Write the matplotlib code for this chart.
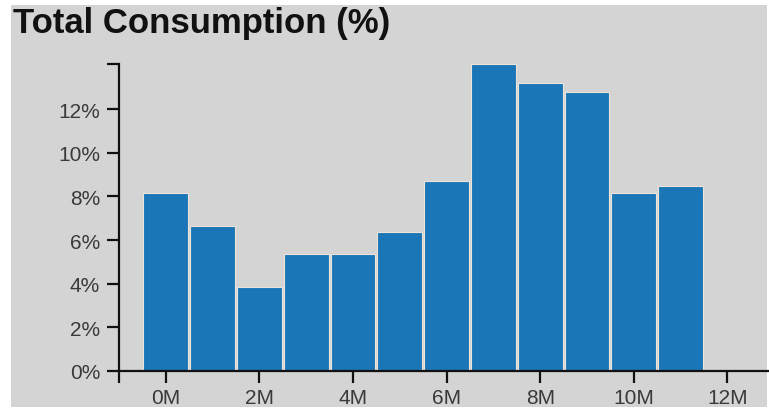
import matplotlib.pyplot as plt
from matplotlib.patches import Rectangle

months = list(range(12))
consumption = [8.15, 6.65, 3.86, 5.35, 5.35, 6.36, 8.7, 14.07, 13.18, 12.78, 8.15, 8.47]
x_ticks = [0, 2, 4, 6, 8, 10, 12]
x_labels = ['0M', '2M', '4M', '6M', '8M', '10M', '12M']
y_ticks = [0, 2, 4, 6, 8, 10, 12]
y_labels = ['0%', '2%', '4%', '6%', '8%', '10%', '12%']

plt.rcParams['font.family'] = ['Liberation Sans', 'DejaVu Sans']
bg = '#d4d4d4'

W, H = 769, 410
fig = plt.figure(figsize=(W / 100, H / 100), dpi=100)
fig.patch.set_facecolor('white')

# gray panel with thin white border (left side wider)
fig.patches.append(Rectangle((11 / W, 2 / H), (767 - 11) / W, (404 - 2) / H,
                             transform=fig.transFigure, facecolor=bg,
                             edgecolor='none', zorder=-10))

# axes in pixel units: left 119, bottom of plot 372, top 65, 46.8 px per month
px_per = 46.8
left = 119
ax = fig.add_axes([left / W, (H - 372) / H, 14 * px_per / W, (372 - 65) / H])
ax.set_facecolor('none')
ax.set_zorder(1)

ax.bar(months, consumption, width=0.96, color='#1a76b6', edgecolor='#ece4da', linewidth=0.8)

ymax = max(consumption)
ax.set_xlim(-1, 13)
ax.set_ylim(0, ymax)

# outer ticks like a d3 axis
ax.set_xticks([-1] + x_ticks)
ax.set_xticklabels([''] + x_labels)
ax.set_yticks(y_ticks + [ymax])
ax.set_yticklabels(y_labels + [''])

for s in ['top', 'right']:
    ax.spines[s].set_visible(False)
for s in ['left', 'bottom']:
    ax.spines[s].set_linewidth(1.6)
    ax.spines[s].set_color('#111111')

ax.tick_params(axis='both', length=8.5, width=1.6, color='#111111',
               labelsize=15, labelcolor='#3a3a3a', direction='out')
ax.tick_params(axis='x', pad=4)
ax.tick_params(axis='y', pad=5)

fig.text(13 / W, 1 - 33 / H, 'Total Consumption (%)', fontsize=25,
         fontweight='bold', color='#111111', ha='left', va='baseline', zorder=5)

fig.savefig('out.png', dpi=100, facecolor='white')
